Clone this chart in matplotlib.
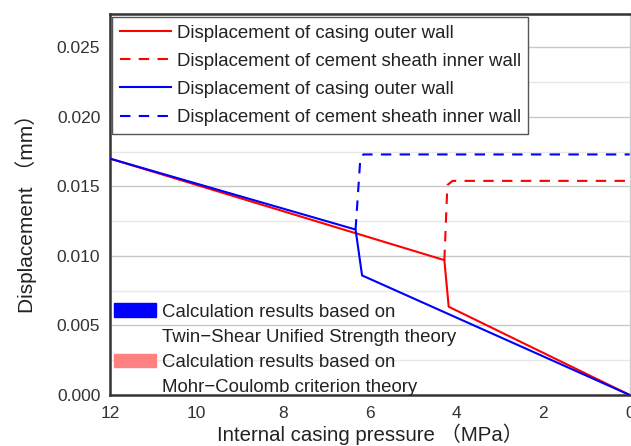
import matplotlib.pyplot as plt
from matplotlib.lines import Line2D
from matplotlib.patches import Patch
from matplotlib.ticker import MultipleLocator

# Mohr-Coulomb results
mc_outer_p = [12, 4.28, 4.18, 0]
mc_outer_d = [0.0170, 0.0097, 0.00635, 0.0]
mc_inner_p = [4.28, 4.21, 4.09, 0]
mc_inner_d = [0.0097, 0.0151, 0.0154, 0.0154]

# Twin-Shear unified strength results
ts_outer_p = [12, 6.33, 6.18, 0]
ts_outer_d = [0.0170, 0.0119, 0.0086, 0.0]
ts_inner_p = [6.33, 6.22, 6.15, 0]
ts_inner_d = [0.0119, 0.0170, 0.0173, 0.0173]

x_ticks = [12, 10, 8, 6, 4, 2, 0]
line_labels = ['Displacement of casing outer wall',
               'Displacement of cement sheath inner wall',
               'Displacement of casing outer wall',
               'Displacement of cement sheath inner wall']
theory_labels = ['Calculation results based on',
                 'Twin\u2212Shear Unified Strength theory',
                 'Calculation results based on',
                 'Mohr\u2212Coulomb criterion theory']

plt.rcParams['font.family'] = ['Liberation Sans', 'Noto Sans CJK SC', 'DejaVu Sans']
plt.rcParams['font.size'] = 13

fig = plt.figure(figsize=(6.31, 4.46), dpi=100)
ax = fig.add_axes([0.1743, 0.1143, 0.8237, 0.8543])

red = '#ff0000'
blue = '#0000ff'
lw = 1.5
dash = (0, (5, 4))

ax.plot(mc_outer_p, mc_outer_d, color=red, lw=lw, zorder=3)
ax.plot(mc_inner_p, mc_inner_d, color=red, lw=lw, ls=dash, zorder=3)
ax.plot(ts_outer_p, ts_outer_d, color=blue, lw=lw, zorder=4)
ax.plot(ts_inner_p, ts_inner_d, color=blue, lw=lw, ls=dash, zorder=4)

ax.set_xlim(12, 0)
ax.set_ylim(0, 0.0274)
ax.set_xticks(x_ticks)
ax.yaxis.set_major_locator(MultipleLocator(0.005))
ax.yaxis.set_minor_locator(MultipleLocator(0.0025))
ax.yaxis.set_major_formatter(lambda v, pos: f'{v:.3f}')
ax.grid(axis='y', which='major', color='#c8c8c8', lw=1.0, zorder=0)
ax.grid(axis='y', which='minor', color='#e8e8e8', lw=1.0, zorder=0)
ax.set_axisbelow(True)
ax.tick_params(which='both', length=0, labelsize=12.5, labelcolor='#333333', pad=7)
ax.tick_params(axis='x', pad=8)

for side in ['left', 'bottom', 'top']:
    ax.spines[side].set_color('#333333')
    ax.spines[side].set_linewidth(1.8)
ax.spines['right'].set_color('#d0d0d0')
ax.spines['right'].set_linewidth(1.0)

ax.set_xlabel('Internal casing pressure \uff08MPa\uff09', fontsize=14.7, color='#222222', labelpad=2)
ax.set_ylabel('Displacement \uff08mm\uff09', fontsize=15, color='#222222')
ax.yaxis.set_label_coords(-0.141, 0.49)

# legend for the four curves
line_handles = [Line2D([], [], color=red, lw=lw),
                Line2D([], [], color=red, lw=lw, ls=dash),
                Line2D([], [], color=blue, lw=lw),
                Line2D([], [], color=blue, lw=lw, ls=dash)]
leg1 = ax.legend(line_handles, line_labels, loc='upper left',
                 bbox_to_anchor=(0.004, 0.992), borderaxespad=0,
                 fancybox=False, framealpha=1, edgecolor='#555555',
                 fontsize=13.4, handlelength=2.75, labelspacing=0.6,
                 borderpad=0.4, handletextpad=0.32)
leg1.get_frame().set_linewidth(1.0)
for t in leg1.get_texts():
    t.set_color('#222222')
ax.add_artist(leg1)

# legend for the two theories
blank = Patch(facecolor='none', edgecolor='none')
theory_handles = [Patch(facecolor=blue, edgecolor=blue), blank,
                  Patch(facecolor='#ff8080', edgecolor='#ff8080'), blank]
leg2 = ax.legend(theory_handles, theory_labels, loc='lower left',
                 bbox_to_anchor=(0.007, -0.003), borderaxespad=0.0,
                 frameon=False, fontsize=13.4, handlelength=2.3,
                 handleheight=0.7, labelspacing=0.44, handletextpad=0.3,
                 borderpad=0.0)
for t in leg2.get_texts():
    t.set_color('#222222')

fig.savefig('out.png', dpi=100)
